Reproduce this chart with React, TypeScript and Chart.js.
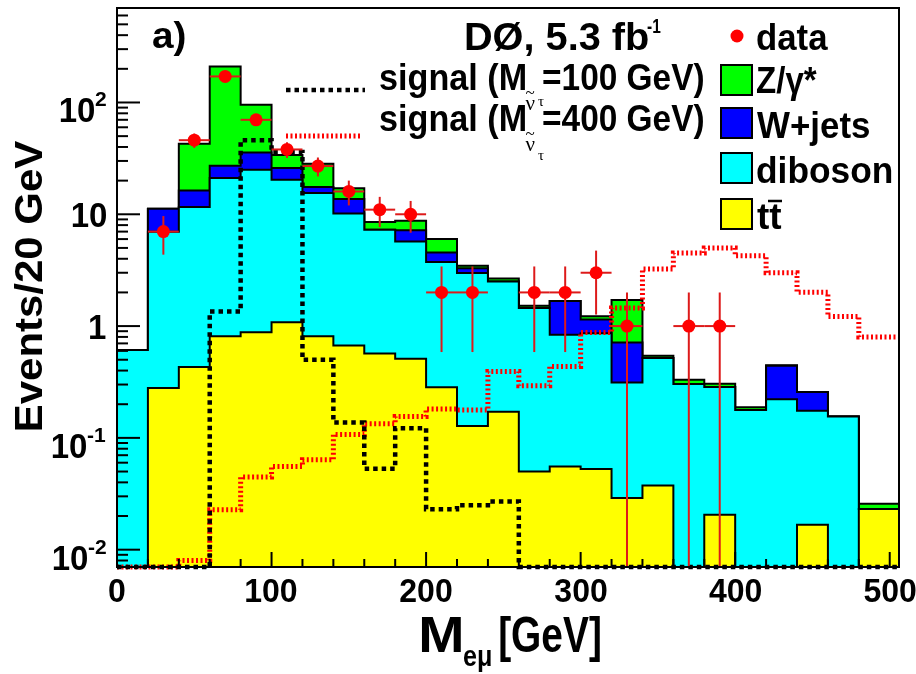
import React, { useEffect, useRef } from 'react';
import { Chart, registerables } from 'chart.js';

Chart.register(...registerables);

const SANS = '"Liberation Sans", Arial, Helvetica, sans-serif';
const SERIF = '"Liberation Serif", "DejaVu Serif", serif';

// ---------------- data ----------------
const BIN_WIDTH = 20;
const X_MAX = 506;
const Y_MIN = 0.007;
const Y_MAX = 700;
const FLOOR = 1e-4;

const binLow = [0, 20, 40, 60, 80, 100, 120, 140, 160, 180, 200, 220, 240, 260, 280, 300, 320, 340, 360, 380, 400, 420, 440, 460, 480];

const ttbar = [0, 0.28, 0.43, 0.81, 0.88, 1.08, 0.81, 0.67, 0.57, 0.51, 0.284, 0.128, 0.171, 0.05, 0.0555, 0.0526, 0.029, 0.0375, 0, 0.0205, 0, 0, 0.0167, 0, 0.0231];
const diboson = [0.61, 6.7, 11.2, 20.3, 24.1, 19.3, 14.7, 9.5, 6.7, 5.2, 3.45, 2.85, 2.33, 1.4, 0.78, 0.81, 0.284, 0.48, 0.303, 0.264, 0.178, 0.222, 0.158, 0.155, 0];
const wjets = [0, 4.2, 4.7, 6.1, 10.7, 5.5, 2.0, 3.5, 0, 1.5, 0.82, 0.32, 0, 0, 0.845, 0.28, 0.4, 0, 0, 0, 0, 0.22, 0.082, 0, 0];
const zgamma = [0, 0, 26.5, 183, 60, 8.1, 10.8, 3.4, 1.24, 1.55, 1.45, 0.16, 0.17, 0.07, 0, 0.08, 1.0, 0.026, 0.028, 0.021, 0.01, 0.005, 0, 0, 0.0027];

const signal100 = [0, 0, 0, 1.35, 46, 36, 0.5, 0.137, 0.053, 0.122, 0.023, 0.025, 0.027, 0, 0, 0, 0, 0, 0, 0, 0, 0, 0, 0, 0];
const signal400 = [0, 0, 0.008, 0.0228, 0.0446, 0.0555, 0.0637, 0.107, 0.134, 0.155, 0.181, 0.178, 0.393, 0.292, 0.435, 0.877, 1.45, 3.24, 4.5, 5.0, 4.25, 3.0, 2.01, 1.22, 0.8];

const dataCounts = [0, 7, 46, 171, 70, 38, 27, 16, 11, 10, 2, 2, 0, 2, 2, 3, 1, 0, 1, 1, 0, 0, 0, 0, 0];

const xMajorTicks = [0, 100, 200, 300, 400, 500];
const xTickLabels = ['0', '100', '200', '300', '400', '500'];
const yDecades = [0.01, 0.1, 1, 10, 100];
const yLabelBase = ['10', '10', '1', '10', '10'];
const yLabelExp = ['-2', '-1', '', '', '2'];

const legendLabels = ['Z/\u03B3*', 'W+jets', 'diboson', 'tt'];
const legendColors = ['#00ff00', '#0000ff', '#00ffff', '#ffff00'];

// ---------------- helpers ----------------
function cumulative(parts: number[][]) {
  return binLow.map((_, i) => parts.reduce((s, a) => s + a[i], 0));
}

function stepPoints(vals: number[], floor: number) {
  const pts = vals.map((v, i) => ({ x: binLow[i], y: v > 0 ? v : floor }));
  pts.push({ x: X_MAX, y: pts[pts.length - 1].y });
  return pts;
}

function drawFit(ctx: CanvasRenderingContext2D, s: string, x0: number, x1: number, baseline: number, size: number, sy = 1, family = SANS, weight = 'bold') {
  ctx.save();
  ctx.font = `${weight} ${size}px ${family}`;
  ctx.textAlign = 'left';
  ctx.textBaseline = 'alphabetic';
  const m = ctx.measureText(s);
  const inkL = -m.actualBoundingBoxLeft;
  const inkR = m.actualBoundingBoxRight;
  const sx = (x1 - x0) / (inkR - inkL);
  ctx.translate(x0, baseline);
  ctx.scale(sx, sy);
  ctx.fillStyle = '#000';
  ctx.fillText(s, -inkL, 0);
  ctx.restore();
}

function drawAt(ctx: CanvasRenderingContext2D, s: string, x: number, baseline: number, size: number, align: 'left' | 'right' | 'center', sy = 1, family = SANS, weight = 'bold') {
  ctx.save();
  ctx.font = `${weight} ${size}px ${family}`;
  ctx.textAlign = 'left';
  ctx.textBaseline = 'alphabetic';
  const m = ctx.measureText(s);
  const inkL = -m.actualBoundingBoxLeft;
  const inkR = m.actualBoundingBoxRight;
  let ox = -inkL;
  if (align === 'right') ox = -inkR;
  if (align === 'center') ox = -(inkL + inkR) / 2;
  ctx.translate(x, baseline);
  ctx.scale(1, sy);
  ctx.fillStyle = '#000';
  ctx.fillText(s, ox, 0);
  ctx.restore();
  return inkR - inkL;
}

function inkWidth(ctx: CanvasRenderingContext2D, s: string, size: number, family = SANS, weight = 'bold') {
  ctx.save();
  ctx.font = `${weight} ${size}px ${family}`;
  const m = ctx.measureText(s);
  ctx.restore();
  return m.actualBoundingBoxRight + m.actualBoundingBoxLeft;
}

function seg(ctx: CanvasRenderingContext2D, x0: number, y0: number, x1: number, y1: number) {
  ctx.beginPath();
  ctx.moveTo(x0, y0);
  ctx.lineTo(x1, y1);
  ctx.stroke();
}

const DATA_INDEX = 6;

const bgPlugin = {
  id: 'bg',
  beforeDraw(chart: any) {
    const ctx = chart.ctx;
    ctx.save();
    ctx.fillStyle = '#fff';
    ctx.fillRect(0, 0, chart.width, chart.height);
    ctx.restore();
  },
};

const errorBarPlugin = {
  id: 'errbars',
  beforeDatasetDraw(chart: any, args: any) {
    if (args.index !== DATA_INDEX) return;
    const { ctx, chartArea } = chart;
    const xs = chart.scales.x;
    const ys = chart.scales.y;
    ctx.save();
    ctx.strokeStyle = '#dd1a1a';
    ctx.lineWidth = 2;
    dataCounts.forEach((n, i) => {
      if (n <= 0) return;
      const x0 = xs.getPixelForValue(binLow[i]);
      const x1 = xs.getPixelForValue(binLow[i] + BIN_WIDTH);
      const xc = xs.getPixelForValue(binLow[i] + BIN_WIDTH / 2);
      const yc = ys.getPixelForValue(n);
      const e = Math.sqrt(n);
      const yHi = ys.getPixelForValue(n + e);
      const yLo = n - e > Y_MIN ? ys.getPixelForValue(n - e) : chartArea.bottom;
      seg(ctx, x0, yc, x1, yc);
      seg(ctx, xc, yHi, xc, yLo);
    });
    ctx.restore();
  },
};

const decorPlugin = {
  id: 'decor',
  afterDraw(chart: any) {
    const { ctx, chartArea: a } = chart;
    const xs = chart.scales.x;
    const ys = chart.scales.y;
    ctx.save();
    ctx.strokeStyle = '#000';
    ctx.lineWidth = 2;
    ctx.setLineDash([]);
    // y ticks
    for (let e = -3; e <= 3; e++) {
      for (let k = 1; k <= 9; k++) {
        const v = k * Math.pow(10, e);
        if (v < Y_MIN || v > Y_MAX) continue;
        const py = ys.getPixelForValue(v);
        seg(ctx, a.left, py, a.left + (k === 1 ? 23 : 11), py);
      }
    }
    // x ticks
    for (let v = 0; v <= X_MAX; v += BIN_WIDTH) {
      const px = xs.getPixelForValue(v);
      seg(ctx, px, a.bottom, px, a.bottom - (v % 100 === 0 ? 15 : 8));
    }
    // frame
    ctx.strokeRect(a.left, a.top, a.right - a.left, a.bottom - a.top);

    // x tick labels
    xMajorTicks.forEach((v, i) => {
      drawAt(ctx, xTickLabels[i], xs.getPixelForValue(v), 602, 32, 'center', 1.05);
    });
    // y tick labels
    yDecades.forEach((v, i) => {
      const t = ys.getPixelForValue(v);
      const base = yLabelBase[i];
      const ex = yLabelExp[i];
      const right = 106;
      if (ex) {
        const we = inkWidth(ctx, ex, 21);
        drawAt(ctx, ex, right, t + 4, 21, 'right');
        drawAt(ctx, base, right - we - 1, t + 20, 33, 'right', 1.05);
      } else {
        drawAt(ctx, base, right, t + 13, 33, 'right', 1.05);
      }
    });

    // axis titles
    drawFit(ctx, 'M', 421, 462, 652, 42, 1.2);
    drawFit(ctx, 'e\u03BC', 464, 491, 666, 27, 1.1);
    drawFit(ctx, '[GeV]', 500, 600, 652, 42, 1.2);

    ctx.save();
    ctx.translate(42, 430);
    ctx.rotate(-Math.PI / 2);
    drawFit(ctx, 'Events/20 GeV', 0, 290, 0, 38, 1.0);
    ctx.restore();

    // header texts
    drawFit(ctx, 'a)', 153, 185, 48, 37);
    drawFit(ctx, 'D\u00D8, 5.3 fb', 466, 648, 50, 38);
    drawFit(ctx, '-1', 647, 661, 33, 21);

    // signal legend
    drawFit(ctx, 'signal (M', 380, 525, 90, 35, 1.05);
    drawFit(ctx, '=100 GeV)', 543, 703, 90, 35, 1.05);
    drawFit(ctx, 'signal (M', 380, 525, 131, 35, 1.05);
    drawFit(ctx, '=400 GeV)', 543, 703, 131, 35, 1.05);
    [[110, 98, 106], [151, 139, 160]].forEach(([nb, tb, taub]) => {
      drawAt(ctx, '\u03BD', 530, nb, 21, 'center', 1, SERIF, 'normal');
      drawAt(ctx, '~', 530, tb, 17, 'center', 1, SERIF, 'normal');
      drawAt(ctx, '\u03C4', 538, taub, 15, 'left', 1, SERIF, 'normal');
    });

    ctx.lineWidth = 4.5;
    ctx.strokeStyle = '#000';
    ctx.setLineDash([4.5, 4]);
    seg(ctx, 286, 90, 365, 90);
    ctx.lineWidth = 5;
    ctx.strokeStyle = '#ff0000';
    ctx.setLineDash([2, 2.5]);
    seg(ctx, 286, 136, 360, 136);
    ctx.setLineDash([]);

    // right legend
    ctx.fillStyle = '#ff0000';
    ctx.beginPath();
    ctx.arc(737, 36, 6.5, 0, Math.PI * 2);
    ctx.fill();
    drawFit(ctx, 'data', 757, 828, 50, 35, 1.05);

    const boxTop = [65, 108, 153, 199];
    const baselines = [93, 138, 183, 229];
    const rights = [817, 870, 892, 782];
    legendLabels.forEach((lab, i) => {
      ctx.fillStyle = legendColors[i];
      ctx.fillRect(721, boxTop[i], 31, 30);
      ctx.strokeStyle = '#000';
      ctx.lineWidth = 2;
      ctx.strokeRect(721, boxTop[i], 31, 30);
      drawFit(ctx, lab, 757, rights[i], baselines[i], 35, 1.05);
    });
    // bar over second t
    ctx.lineWidth = 2.5;
    ctx.strokeStyle = '#000';
    seg(ctx, 768, 201, 782, 201);

    ctx.restore();
  },
};

export default function App() {
  const ref = useRef<HTMLCanvasElement>(null);
  useEffect(() => {
    const canvas = ref.current;
    if (!canvas) return;
    const lvlTT = cumulative([ttbar]);
    const lvlDB = cumulative([ttbar, diboson]);
    const lvlW = cumulative([ttbar, diboson, wjets]);
    const lvlZ = cumulative([ttbar, diboson, wjets, zgamma]);

    const hist = (label: string, vals: number[], color: string, order: number) => ({
      label,
      data: stepPoints(vals, FLOOR),
      stepped: 'before',
      borderColor: '#000',
      borderWidth: 2,
      backgroundColor: color,
      fill: 'start',
      pointRadius: 0,
      order,
    });

    const chart = new Chart(canvas, {
      type: 'line',
      data: {
        datasets: [
          hist('Z/gamma*', lvlZ, legendColors[0], 10),
          hist('W+jets', lvlW, legendColors[1], 9),
          hist('diboson', lvlDB, legendColors[2], 8),
          hist('ttbar', lvlTT, legendColors[3], 7),
          {
            label: 'signal 400',
            data: stepPoints(signal400, Y_MIN),
            stepped: 'before',
            borderColor: '#ff0000',
            borderWidth: 5,
            borderDash: [2, 2.5],
            fill: false,
            pointRadius: 0,
            order: 5,
            clip: false,
          },
          {
            label: 'signal 100',
            data: stepPoints(signal100, Y_MIN),
            stepped: 'before',
            borderColor: '#000',
            borderWidth: 4.5,
            borderDash: [4.5, 4],
            fill: false,
            pointRadius: 0,
            order: 4,
            clip: false,
          },
          {
            label: 'data',
            data: dataCounts
              .map((n, i) => ({ x: binLow[i] + BIN_WIDTH / 2, y: n }))
              .filter((p) => p.y > 0),
            showLine: false,
            pointRadius: 6.5,
            pointBackgroundColor: '#ff0000',
            pointBorderColor: '#ff0000',
            pointBorderWidth: 0,
            order: 1,
          },
        ] as any,
      },
      options: {
        animation: false,
        responsive: false,
        devicePixelRatio: 1,
        events: [],
        layout: { padding: { left: 117, top: 8, right: 17, bottom: 107 } },
        plugins: { legend: { display: false }, tooltip: { enabled: false } },
        scales: {
          x: { type: 'linear', min: 0, max: X_MAX, display: false },
          y: { type: 'logarithmic', min: Y_MIN, max: Y_MAX, display: false },
        },
      } as any,
      plugins: [bgPlugin, errorBarPlugin, decorPlugin],
    });
    return () => chart.destroy();
  }, []);

  return (
    <div style={{ position: 'fixed', left: 0, top: 0, width: 916, height: 674, background: '#fff' }}>
      <canvas ref={ref} width={916} height={674} style={{ display: 'block', width: 916, height: 674 }} />
    </div>
  );
}
